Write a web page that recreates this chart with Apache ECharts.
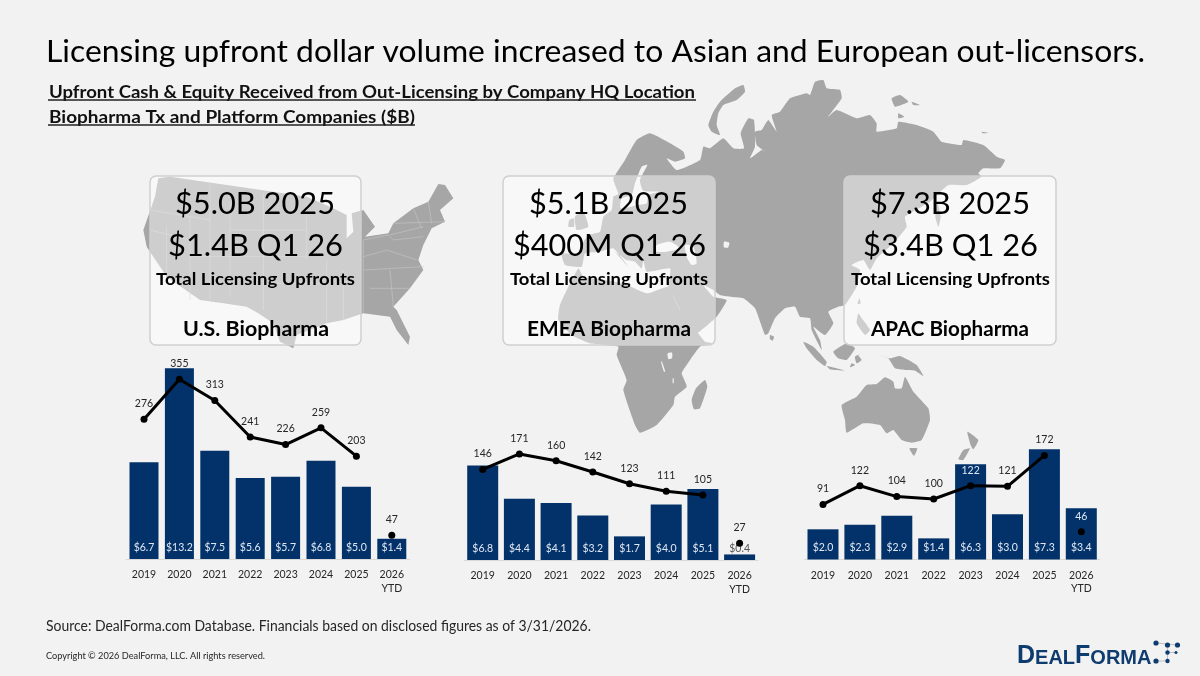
<!DOCTYPE html>
<html><head><meta charset="utf-8">
<style>html,body{margin:0;padding:0;background:#f2f2f2}#c{width:1200px;height:676px}</style>
<script src="https://cdn.jsdelivr.net/npm/echarts@6/dist/echarts.min.js"></script>
</head><body><div id="c"></div>
<script>
const categories = ['2019','2020','2021','2022','2023','2024','2025','2026\nYTD'];
const usUpfronts = [6.7,13.2,7.5,5.6,5.7,6.8,5.0,1.4];
const usDeals = [276,355,313,241,226,259,203,47];
const emeaUpfronts = [6.8,4.4,4.1,3.2,1.7,4.0,5.1,0.4];
const emeaDeals = [146,171,160,142,123,111,105,27];
const apacUpfronts = [2.0,2.3,2.9,1.4,6.3,3.0,7.3,3.4];
const apacDeals = [91,122,104,100,122,121,172,46];

const FONT = 'Lato, "Open Sans", sans-serif';
const DARK = '#a6a6a6', BG = '#f2f2f2', NAVY = '#03326a', LIGHT = '#dfe8f3', INK = '#262626';

/* ---------- panels ---------- */
const panels = [
  {up:usUpfronts, deals:usDeals, left:126.3, width:283.2, top:360, height:199, barPx:14.45, linePx:0.5065, barWidth:29},
  {up:emeaUpfronts, deals:emeaDeals, left:464.35, width:293.6, top:400, height:160, barPx:13.9, linePx:0.62, barWidth:31},
  {up:apacUpfronts, deals:apacDeals, left:804.55, width:295.2, top:400, height:159.5, barPx:15.1, linePx:0.605, barWidth:31}
];
const grid=[],xAxis=[],yAxis=[],series=[];
panels.forEach((p,i)=>{
  grid.push({left:p.left,top:p.top,width:p.width,height:p.height,containLabel:false});
  xAxis.push({type:'category',gridIndex:i,data:categories,
    axisLine:{show:true,lineStyle:{color:'#d9d9d9',width:1}},axisTick:{show:false},
    axisLabel:{interval:0,margin:9,color:INK,fontFamily:FONT,fontSize:10.5,lineHeight:13.5}});
  yAxis.push({type:'value',gridIndex:i,min:0,max:p.height/p.barPx,show:false,splitLine:{show:false}});
  yAxis.push({type:'value',gridIndex:i,min:0,max:p.height/p.linePx,show:false,splitLine:{show:false}});
  series.push({type:'bar',xAxisIndex:i,yAxisIndex:i*2,barWidth:p.barWidth,z:2,
    itemStyle:{color:NAVY},silent:true,
    data:p.up.map(v=>({value:v,label:{color:v*p.barPx<14?'#555':LIGHT}})),
    label:{show:true,position:'insideBottom',distance:6,fontFamily:FONT,fontSize:10.5,
      formatter:d=>'$'+d.value.toFixed(1)}});
  const point=(v,j)=>({value:v,label:{color:(v*p.linePx+20<p.up[j]*p.barPx)?LIGHT:INK}});
  const lineSeries={type:'line',xAxisIndex:i,yAxisIndex:i*2+1,z:5,silent:true,animation:false,
    symbol:'circle',symbolSize:7,showSymbol:true,showAllSymbol:true,
    lineStyle:{color:'#000',width:3},itemStyle:{color:'#000'},
    label:{show:true,position:'top',distance:6.5,fontFamily:FONT,fontSize:10.5}};
  series.push(Object.assign({},lineSeries,{data:p.deals.map((v,j)=>j<7?point(v,j):null)}));
  series.push(Object.assign({},lineSeries,{data:p.deals.map((v,j)=>j===7?point(v,j):null)}));
});

/* ---------- background map (decoration, traced by eye) ---------- */
const z=(ox,oy,sx,sy,pts)=>pts.map(([x,y])=>[ox+x/sx,oy+y/sy]);
const z5=p=>z(130,160,3,3,p), z6=p=>z(500,70,2.613,3,p), z7=p=>z(500,120,3,3,p),
      z8=p=>z(700,70,3,3,p), z9=p=>z(730,280,3,3,p), z10=p=>z(590,310,3,3,p);
const eurasia=[].concat(
  z7([[185,400],[240,405],[245,375],[265,345],[300,335],[310,290],[335,270],[340,230],[355,222],[345,195],[340,175],[375,120],[410,60],[450,40],[510,70],[550,95],[555,115],[525,125],[500,115],[530,150],[600,120],[610,80],[630,85],[670,55],[700,85]]),
  z8([[132,235],[122,190],[145,145],[162,150],[165,230],[150,265],[185,240],[195,245],[170,225],[165,185],[185,180],[205,150],[230,185],[215,135],[240,125],[270,85],[320,70],[330,75],[345,35],[370,30],[380,55],[420,60],[425,85],[385,140],[410,120],[470,145],[510,135],[530,160],[530,185],[590,175],[595,155],[650,165],[700,185],[725,215],[785,225],[790,210],[850,225],[890,260],[915,270],[900,295],[850,295],[835,310],[845,320],[800,345],[745,345],[690,395],[615,440],[620,470],[580,520],[530,565],[510,600],[490,570],[455,585],[480,600],[475,625],[470,650]]),
  z9([[345,75],[325,80],[295,95],[310,130],[285,165],[250,140],[270,180],[275,210],[245,150],[240,115],[210,110],[195,80],[165,85],[135,115],[115,160],[105,165],[75,85],[40,55],[0,50]]),
  z7([[660,525],[640,510],[610,495],[640,530],[680,540],[650,590],[590,640],[570,625],[520,530],[505,500],[510,470],[510,445],[440,455],[430,420],[425,445],[405,425],[380,420],[345,395],[385,440],[340,385],[300,395],[255,400],[245,440],[195,435]])
);
const africa=[].concat(
  z7([[235,445],[180,555],[175,600],[215,645],[270,670],[355,680]]),
  z10([[80,135],[110,210],[100,240],[135,345],[150,368],[200,345],[250,285],[255,260],[290,230],[275,190],[290,165],[330,110],[372,100],[345,95],[310,50],[270,0]]),
  z7([[520,530],[505,500],[440,520],[370,490],[310,480],[250,470]])
);
const land=[eurasia,africa,
  z8([[130,45],[135,65],[110,90],[70,105],[55,130],[50,165],[60,195],[35,185],[25,165],[40,125],[60,95],[105,55]]),
  z8([[575,85],[600,75],[625,95],[585,110]]),z8([[635,95],[660,105],[640,105]]),z8([[595,130],[612,140],[595,145]]),z8([[845,185],[865,188],[848,190]]),
  z8([[712,395],[722,440],[715,470],[706,440]]),
  z7([[225,290],[250,275],[265,320],[230,330]]),z7([[208,300],[222,295],[222,320],[205,320]]),
  z9([[120,165],[132,170],[128,182],[120,178]]),
  z9([[220,185],[250,200],[290,245],[285,258],[260,240],[230,205]]),
  z9([[290,258],[345,272],[300,268]]),
  z9([[310,215],[350,190],[375,205],[350,240],[325,235]]),
  z9([[375,230],[410,213],[385,225],[395,240],[380,250]]),
  z9([[450,225],[480,235],[510,228],[560,255],[580,288],[555,272],[525,270],[495,265],[475,235]]),
  z9([[335,375],[380,350],[410,315],[440,312],[465,292],[490,305],[495,325],[515,325],[525,290],[550,335],[595,385],[600,420],[575,480],[545,488],[515,480],[490,450],[470,460],[450,435],[400,430],[350,458],[345,420]]),
  z9([[538,505],[562,505],[552,528]]),
  z9([[712,455],[745,480],[730,508],[722,495]]),
  z9([[700,510],[720,505],[700,540],[685,538]]),
  z9([[385,100],[395,115],[420,150],[405,165],[380,130]]),
  z9([[388,55],[392,70],[383,72]]),
  z9([[365,250],[375,255],[360,262]]),
  z10([[345,210],[352,230],[330,295],[312,298],[305,270],[318,235]])
];
const seas=[
  z7([[362,265],[415,255],[440,250],[445,225],[478,215],[430,212],[420,180],[442,135],[425,140],[405,190],[395,225],[365,235]]),
  z7([[470,375],[510,365],[540,385],[500,395],[465,395]]),
  z7([[555,375],[580,380],[590,430],[575,435],[560,410]]),
  z8([[72,515],[88,518],[84,533],[72,532]]),
  z10([[233,130],[246,128],[246,145],[235,147]]),
  z10([[213,155],[216,155],[226,185],[222,185]]),
  z10([[248,205],[251,205],[251,220],[248,220]])
];
const usa=z5([[85,55],[120,50],[430,95],[530,110],[600,140],[650,165],[650,235],[670,215],[665,160],[700,150],[735,200],[705,230],[775,220],[790,190],[850,145],[895,125],[925,72],[945,75],[970,115],[930,150],[945,185],[905,205],[880,255],[865,300],[880,330],[840,385],[790,440],[800,450],[840,530],[835,555],[800,510],[780,470],[700,460],[640,480],[590,490],[500,525],[490,565],[450,545],[430,490],[385,460],[350,440],[280,430],[210,420],[110,350],[50,260],[40,210],[75,110]]);
const stateLines=[
 [[700,240],[700,460]],[[700,240],[775,225]],[[775,225],[790,240],[880,230]],[[700,330],[880,320]],[[720,385],[840,385]],[[780,330],[790,440]],[[700,290],[770,270],[860,300]],[[850,145],[875,205]],[[895,125],[905,190]],[[790,190],[945,185]],[[780,225],[880,200]],[[640,330],[640,480]],[[590,300],[590,490]],
 [[60,150],[240,180]],[[240,70],[240,420]],[[110,200],[110,350]],[[60,210],[180,240]],[[180,170],[180,420]],[[300,130],[300,410]],[[400,100],[400,450]],[[180,290],[530,290]],[[530,130],[530,300]],[[300,210],[530,210]],[[400,370],[600,370]]
].map(z5);

const g=[];
land.forEach(points=>g.push({type:'polygon',z:0,silent:true,shape:{points,smooth:0.15},style:{fill:DARK}}));
seas.forEach(points=>g.push({type:'polygon',z:1,silent:true,shape:{points,smooth:0.2},style:{fill:BG}}));
g.push({type:'polygon',z:0,silent:true,shape:{points:usa},style:{fill:DARK}});
stateLines.forEach(points=>g.push({type:'polyline',z:1,silent:true,shape:{points},style:{stroke:'#c2c2c2',lineWidth:0.7,fill:null}}));

/* ---------- text fitted to the measured widths ---------- */
const ctx=document.createElement('canvas').getContext('2d');
function fit(text,x0,x1,baseline,size,weight,color,zv){
  const font=(weight||'normal')+' '+size+'px '+FONT;
  ctx.font=font;
  const w=ctx.measureText(text).width;
  g.push({type:'text',z:zv||10,silent:true,x:x0,y:baseline-size*0.28,scaleX:(x1-x0)/w,
    style:{text,font,fill:color||'#000',textAlign:'left',textVerticalAlign:'middle'}});
}
fit('Licensing upfront dollar volume increased to Asian and European out-licensors.',46,1145,60.7,31,'normal','#000');
fit('Upfront Cash & Equity Received from Out-Licensing by Company HQ Location',49,695,97,16.5,'bold','#111');
fit('Biopharma Tx and Platform Companies ($B)',49,415,122.7,16.5,'bold','#111');
[[48,696,100],[48,415,125]].forEach(([a,b,y])=>g.push({type:'line',z:10,silent:true,shape:{x1:a,y1:y,x2:b,y2:y},style:{stroke:'#222',lineWidth:1.4}}));

const boxes=[
 {x:150,w:211,lines:['$5.0B 2025','$1.4B Q1 26','Total Licensing Upfronts','U.S. Biopharma'],xs:[[175,335],[168,343],[156,355],[183,329]]},
 {x:503,w:212,lines:['$5.1B 2025','$400M Q1 26','Total Licensing Upfronts','EMEA Biopharma'],xs:[[529,688],[513,706],[510,708],[527,691]]},
 {x:844,w:212,lines:['$7.3B 2025','$3.4B Q1 26','Total Licensing Upfronts','APAC Biopharma'],xs:[[870,1030],[863,1038],[851,1050],[871,1029]]}
];
boxes.forEach(b=>{
  g.push({type:'rect',z:3,silent:true,shape:{x:b.x,y:176,width:b.w,height:169,r:6},
    style:{fill:'rgba(255,255,255,0.45)',stroke:'#cfcfcf',lineWidth:1.5}});
  fit(b.lines[0],b.xs[0][0],b.xs[0][1],213,30,'normal','#000');
  fit(b.lines[1],b.xs[1][0],b.xs[1][1],255,30,'normal','#000');
  fit(b.lines[2],b.xs[2][0],b.xs[2][1],284,17,'bold','#000');
  fit(b.lines[3],b.xs[3][0],b.xs[3][1],335,21,'bold','#000');
});

fit('Source: DealForma.com Database. Financials based on disclosed figures as of 3/31/2026.',46,591,630,14.5,'normal','#262626');
fit('Copyright © 2026 DealForma, LLC. All rights reserved.',46,265,659,9,'normal','#262626');

/* ---------- logo ---------- */
const LOGO='#0f3c6e';
g.push({type:'text',z:10,silent:true,x:1017,y:656,scaleX:1,
  style:{text:'{a|D}{b|EAL}{a|F}{b|ORMA}',textVerticalAlign:'middle',textAlign:'left',
    rich:{a:{font:'bold 25px "Liberation Sans"',fill:LOGO,fontWeight:'bold',fontSize:25,fontFamily:'Liberation Sans',verticalAlign:'bottom'},
          b:{font:'bold 20px "Liberation Sans"',fill:LOGO,fontWeight:'bold',fontSize:20,fontFamily:'Liberation Sans',verticalAlign:'bottom'}}}});
const dots=[[1156,643,2.6],[1167.5,645,2.6],[1177.5,645,2.6],[1167.5,652.5,2.2],[1176,652.5,1.5],[1156,661,2.6],[1167.5,661,2.2]];
[[1156,643,1177.5,645],[1167.5,645,1167.5,661],[1156,661,1167.5,661],[1167.5,652.5,1176,652.5]].forEach(([a,b,c,d])=>
  g.push({type:'line',z:10,silent:true,shape:{x1:a,y1:b,x2:c,y2:d},style:{stroke:'#a9b4c2',lineWidth:0.8}}));
dots.forEach(([cx,cy,r])=>g.push({type:'circle',z:10,silent:true,shape:{cx,cy,r},style:{fill:LOGO}}));

const chart=echarts.init(document.getElementById('c'),null,{renderer:'canvas'});
chart.setOption({animation:false,backgroundColor:BG,grid,xAxis,yAxis,series,graphic:{elements:g}});
</script></body></html>
